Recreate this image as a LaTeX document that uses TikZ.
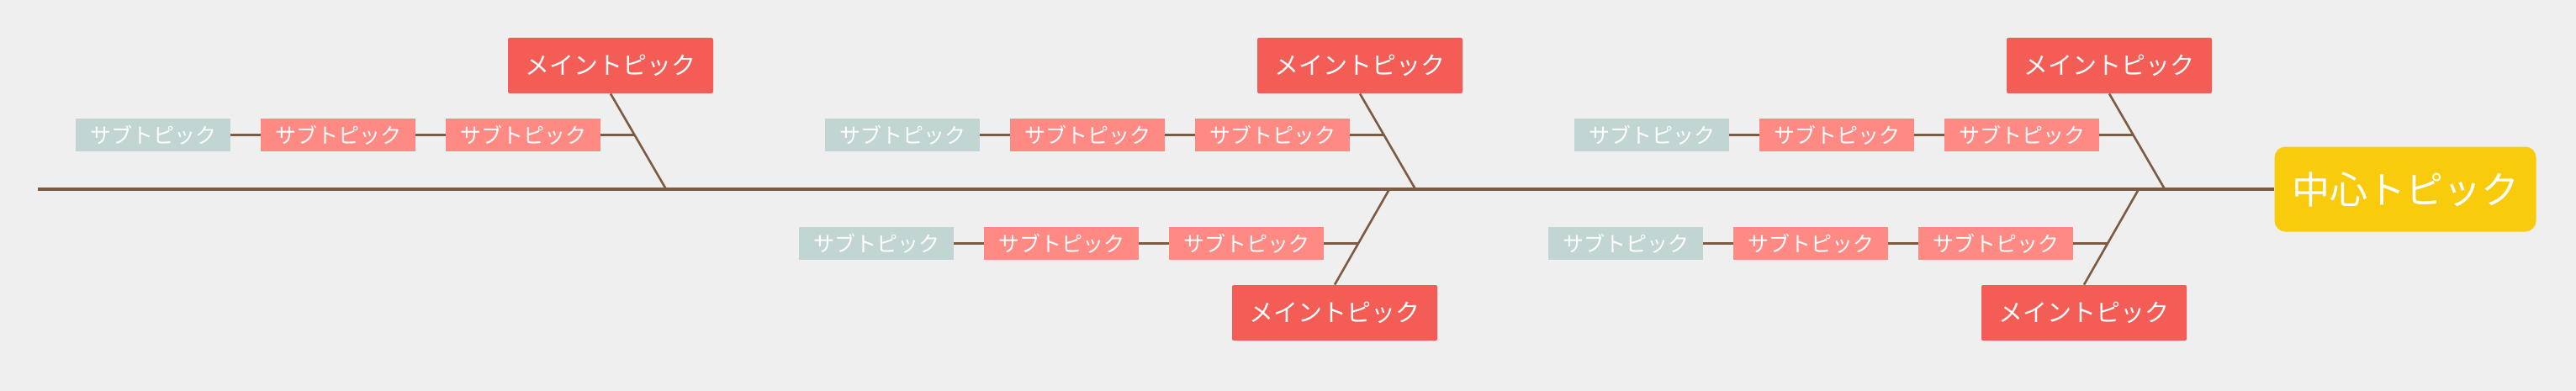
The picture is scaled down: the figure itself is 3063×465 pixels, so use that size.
\documentclass[tikz,border=0pt]{standalone}
\usepackage{fontspec}
\setmainfont{Noto Sans CJK JP}
\usepackage{xcolor}
\usetikzlibrary{positioning}

\definecolor{bgcol}{HTML}{EFEFEF}
\definecolor{mainred}{HTML}{F45C56}
\definecolor{subpink}{HTML}{FF8A84}
\definecolor{subteal}{HTML}{C1D6D2}
\definecolor{centeryellow}{HTML}{F8CB0D}
\definecolor{bonebrown}{HTML}{7D5A42}

\begin{document}
\begin{tikzpicture}[x=0.5pt,y=-0.5pt,
  center/.style={rectangle,fill=centeryellow,text=white,rounded corners=6.5pt,minimum width=155.5pt,minimum height=50.5pt,inner sep=0pt,font=\fontsize{22.5}{22.5}\selectfont},
  maintopic/.style={rectangle,fill=mainred,text=white,rounded corners=1pt,minimum width=122pt,minimum height=33pt,inner sep=0pt,font=\fontsize{14.5}{14.5}\selectfont},
  subtopic/.style={rectangle,fill=subpink,text=white,minimum width=92pt,minimum height=19.5pt,inner sep=0pt,font=\fontsize{12.5}{12.5}\selectfont},
  firstsub/.style={subtopic,fill=subteal},
  spine/.style={draw=bonebrown,line width=1.8pt},
  bone/.style={draw=bonebrown,line width=1.3pt}]

% background and size
\fill[bgcol] (0,0) rectangle (3063,465);
\useasboundingbox (0,0) rectangle (3063,465);

% head
\node[center] (head) at (2860,225) {中心トピック};

% main topics
\node[maintopic] (m1) at (726,78) {メイントピック};
\node[maintopic] (m2) at (1617,78) {メイントピック};
\node[maintopic] (m3) at (2508,78) {メイントピック};
\node[maintopic] (m4) at (1587,372) {メイントピック};
\node[maintopic] (m5) at (2478,372) {メイントピック};

% sub topics above the spine
\node[firstsub] (s11) at (182,160.5) {サブトピック};
\node[subtopic] (s12) at (402,160.5) {サブトピック};
\node[subtopic] (s13) at (622,160.5) {サブトピック};
\node[firstsub] (s21) at (1073,160.5) {サブトピック};
\node[subtopic] (s22) at (1293,160.5) {サブトピック};
\node[subtopic] (s23) at (1513,160.5) {サブトピック};
\node[firstsub] (s31) at (1964,160.5) {サブトピック};
\node[subtopic] (s32) at (2184,160.5) {サブトピック};
\node[subtopic] (s33) at (2404,160.5) {サブトピック};

% sub topics below the spine
\node[firstsub] (s41) at (1042,289.5) {サブトピック};
\node[subtopic] (s42) at (1262,289.5) {サブトピック};
\node[subtopic] (s43) at (1482,289.5) {サブトピック};
\node[firstsub] (s51) at (1933,289.5) {サブトピック};
\node[subtopic] (s52) at (2153,289.5) {サブトピック};
\node[subtopic] (s53) at (2373,289.5) {サブトピック};

% spine
\coordinate (tail) at (45,225);
\draw[spine] (tail) -- (head.west);

% where the bones meet the spine
\coordinate (j1) at (792,225);
\coordinate (j2) at (1683,225);
\coordinate (j3) at (2574,225);
\coordinate (j4) at (1652,225);
\coordinate (j5) at (2543,225);

% where the sub lines meet the bones
\coordinate (k1) at (755,160.5);
\coordinate (k2) at (1646,160.5);
\coordinate (k3) at (2537,160.5);
\coordinate (k4) at (1615,289.5);
\coordinate (k5) at (2506,289.5);

% bones
\draw[bone] (m1.south) -- (j1);
\draw[bone] (m2.south) -- (j2);
\draw[bone] (m3.south) -- (j3);
\draw[bone] (m4.north) -- (j4);
\draw[bone] (m5.north) -- (j5);

% sub lines
\draw[bone] (s11) -- (s12);
\draw[bone] (s12) -- (s13);
\draw[bone] (s13) -- (k1);
\draw[bone] (s21) -- (s22);
\draw[bone] (s22) -- (s23);
\draw[bone] (s23) -- (k2);
\draw[bone] (s31) -- (s32);
\draw[bone] (s32) -- (s33);
\draw[bone] (s33) -- (k3);
\draw[bone] (s41) -- (s42);
\draw[bone] (s42) -- (s43);
\draw[bone] (s43) -- (k4);
\draw[bone] (s51) -- (s52);
\draw[bone] (s52) -- (s53);
\draw[bone] (s53) -- (k5);
\end{tikzpicture}
\end{document}
